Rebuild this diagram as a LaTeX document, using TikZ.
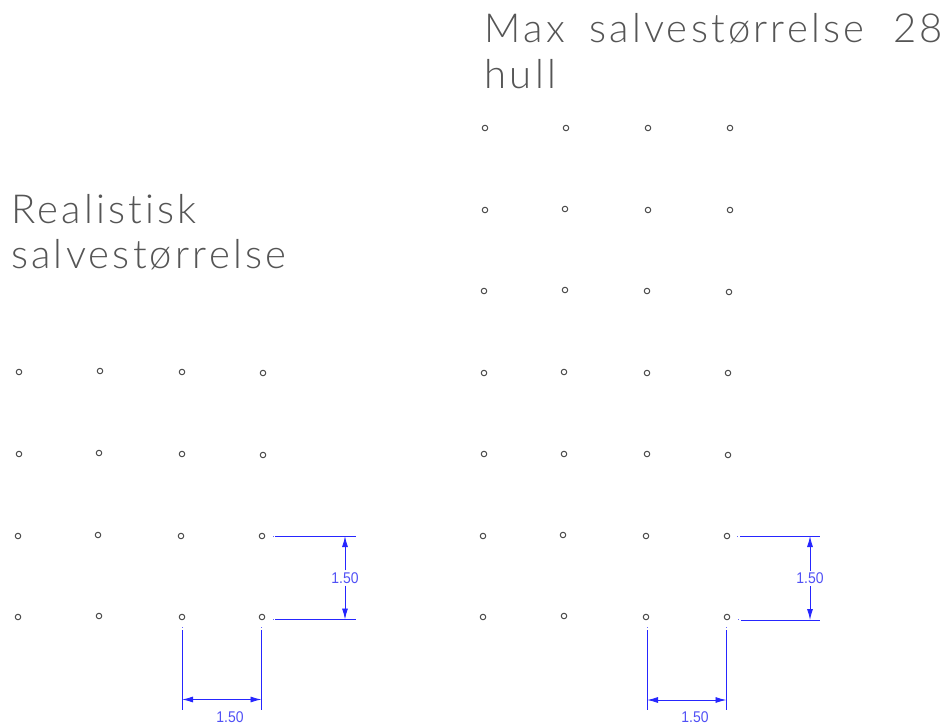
\documentclass[tikz,border=0pt]{standalone}
\usepackage{fontspec}
\newfontfamily\thinfont[LetterSpace=8,Ligatures=NoCommon,UprightFont=* Light]{Lato}
\newfontfamily\dimfont{Liberation Sans}
\definecolor{dimblue}{RGB}{0,0,255}
\definecolor{dimtext}{RGB}{80,80,245}
\definecolor{titlegray}{RGB}{85,85,85}
\usetikzlibrary{arrows.meta}
\newcommand{\dimval}{\scalebox{0.9}[1]{1.50}}
\tikzset{
  x=1pt,y=-1pt,
  hole/.style={circle,draw=black!70,line width=1pt,inner sep=0pt,minimum size=5.5pt},
  dimline/.style={draw=dimblue!85,line width=0.9pt},
  dimarrow/.style={draw=dimblue!85,line width=0.9pt,-{Latex[length=11pt,width=6pt]}},
  dimlabel/.style={text=dimtext,font=\dimfont\fontsize{15.5}{16}\selectfont,inner sep=0pt},
  titletext/.style={text=titlegray,font=\thinfont\fontsize{40}{44}\selectfont,anchor=base west,inner sep=0pt},
  tick/.style={fill=dimblue!60,inner sep=0pt,minimum size=1pt,shape=rectangle}
}
\begin{document}
\begin{tikzpicture}
\useasboundingbox (0,0) rectangle (944,725);
\node[titletext] (t1) at (11,223) {Realistisk};
\node[titletext] (t2) at (11,268) {salvestørrelse};
\node[titletext] (t3) at (484.5,43) {Max\hspace{10.5pt} salvestørrelse\hspace{15pt} 28};
\node[titletext] (t4) at (484.5,88) {hull};
\foreach \n/\x/\y in {
  a11/19/372,a12/100/371,a13/182/372,a14/263/373,
  a21/19/454,a22/99/453,a23/182/454,a24/263/455,
  a31/18/536,a32/98/535,a33/181/536,a34/262/536,
  a41/18/617,a42/99/616,a43/182/617,a44/262/617,
  b01/485/128,b02/566/128,b03/648/128,b04/730/128,
  b11/485/210,b12/565/209,b13/648/210,b14/730/210,
  b21/484/291,b22/565/290,b23/647/291,b24/729/292,
  b31/484/373,b32/564/372,b33/647/373,b34/728/373,
  b41/484/454,b42/564/454,b43/647/454,b44/728/455,
  b51/483/536,b52/563/535,b53/646/536,b54/727/536,
  b61/483/617,b62/564/616,b63/646/617,b64/727/617}
  \node[hole] (\n) at (\x,\y) {};
% left dimensions
\node[tick] (ta) at (273,536) {};
\node[tick] (tb) at (273,619) {};
\node[tick] (tc) at (182,627) {};
\node[tick] (td) at (261,627) {};
\coordinate (a1) at (275,536);\coordinate (a2) at (355.5,536);
\coordinate (a3) at (275,619.5);\coordinate (a4) at (355.5,619.5);
\draw[dimline] (a1) -- (a2);
\draw[dimline] (a3) -- (a4);
\coordinate (a5) at (182,630);\coordinate (a6) at (182,710);
\coordinate (a7) at (261.5,630);\coordinate (a8) at (261.5,710);
\draw[dimline] (a5) -- (a6);
\draw[dimline] (a7) -- (a8);
\node[dimlabel] (la) at (345,578) {\dimval};
\node[dimlabel] (lb) at (230,717.5) {\dimval};
\coordinate (a9) at (345,536);\coordinate (a10) at (345,619.5);
\draw[dimarrow] (la.north) ++(0,-2) -- (a9);
\draw[dimarrow] (la.south) ++(0,2) -- (a10);
\coordinate (a11c) at (182,699.5);\coordinate (a12c) at (261.5,699.5);
\coordinate (a13c) at (221,699.5);
\draw[dimarrow] (a13c) -- (a11c);
\draw[dimarrow] (a13c) -- (a12c);
% right dimensions
\node[tick] (te) at (737,536) {};
\node[tick] (tf) at (738,619) {};
\node[tick] (tg) at (647,627) {};
\node[tick] (th) at (726,627) {};
\coordinate (c1) at (740,536);\coordinate (c2) at (820,536);
\coordinate (c3) at (741,620);\coordinate (c4) at (820,620);
\draw[dimline] (c1) -- (c2);
\draw[dimline] (c3) -- (c4);
\coordinate (c5) at (647,630);\coordinate (c6) at (647,710);
\coordinate (c7) at (726.5,630);\coordinate (c8) at (726.5,710);
\draw[dimline] (c5) -- (c6);
\draw[dimline] (c7) -- (c8);
\node[dimlabel] (lc) at (810,578.5) {\dimval};
\node[dimlabel] (ld) at (695,717.5) {\dimval};
\coordinate (c9) at (810,536);\coordinate (c10) at (810,620);
\draw[dimarrow] (lc.north) ++(0,-2) -- (c9);
\draw[dimarrow] (lc.south) ++(0,2) -- (c10);
\coordinate (c11) at (647,700);\coordinate (c12) at (726.5,700);
\coordinate (c13) at (686,700);
\draw[dimarrow] (c13) -- (c11);
\draw[dimarrow] (c13) -- (c12);
\end{tikzpicture}
\end{document}
